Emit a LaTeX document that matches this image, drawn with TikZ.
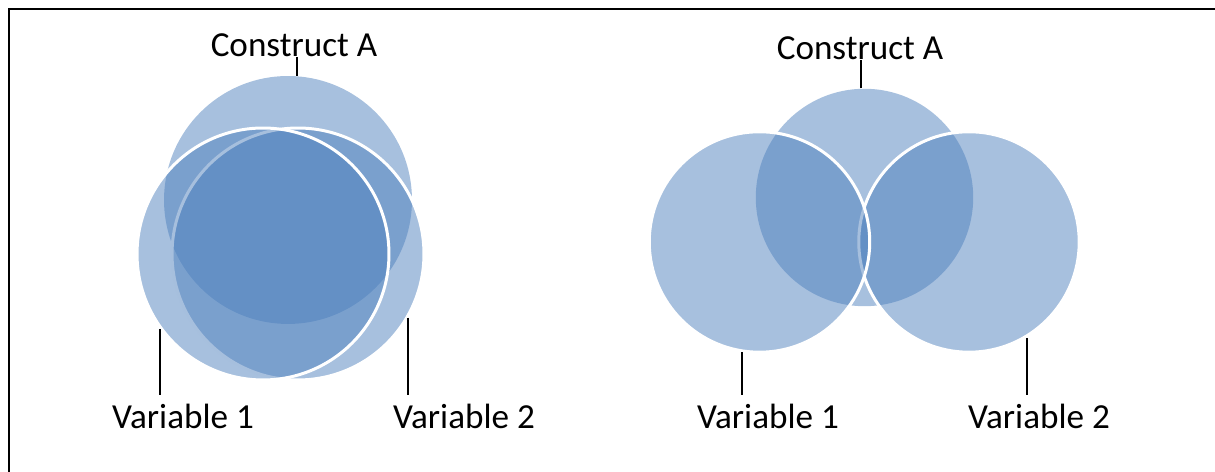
\documentclass[tikz,border=0pt]{standalone}
\usepackage{fontspec}
\setmainfont{Carlito}
\definecolor{vennblue}{HTML}{4F81BD}

\begin{document}
\begin{tikzpicture}[x=0.02cm,y=0.02cm,
    blob/.style={circle,fill=vennblue,fill opacity=0.5,inner sep=0pt},
    rim/.style={draw=white,line width=1.7pt},
    lead/.style={line width=1.1pt,-},
    tag/.style={font=\fontsize{20}{24}\selectfont,anchor=base,inner xsep=0pt,inner ysep=0.18cm}]
    \useasboundingbox (0,0) rectangle (1215,472);
    \draw[line width=1.25pt] (9,0) -- (9,463) -- (1215,463);

    \node[blob,minimum size=4.96cm] (cL) at (288,272) {};
    \node[blob,rim,minimum size=5.04cm] (vL2) at (298,218) {};
    \node[blob,rim,minimum size=5.04cm] (vL1) at (263,218) {};

    \node[blob,minimum size=4.35cm] (cR) at (864.5,274.5) {};
    \node[blob,rim,minimum size=4.41cm] (vR2) at (969,230) {};
    \node[blob,rim,minimum size=4.41cm] (vR1) at (759.5,230) {};

    \node[tag] (tcL) at (294,415) {Construct A};
    \node[tag] (tL1) at (183,43) {Variable 1};
    \node[tag] (tL2) at (464,43) {Variable 2};
    \node[tag] (tcR) at (860,412) {Construct A};
    \node[tag] (tR1) at (768,43) {Variable 1};
    \node[tag] (tR2) at (1039,43) {Variable 2};

    \foreach \c/\a/\t/\e in {cL/86/tcL/base,vL1/216/tL1/north,vL2/330/tL2/north,
        cR/92/tcR/base,vR1/261/tR1/north,vR2/301/tR2/north}
    {\draw[lead] (\c.\a) -- (\c.\a |- \t.\e);}

\end{tikzpicture}
\end{document}
